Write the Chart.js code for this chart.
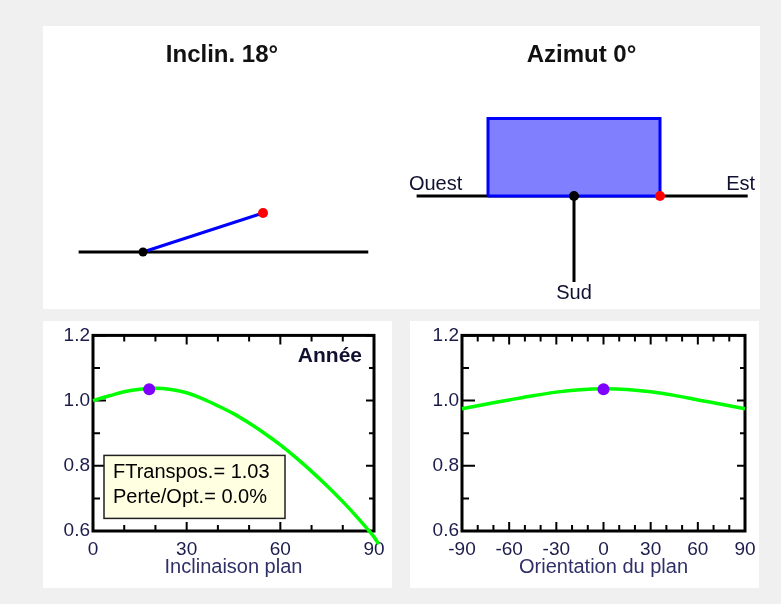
<!DOCTYPE html>
<html>
<head>
<meta charset="utf-8">
<script src="https://cdn.jsdelivr.net/npm/chart.js@4.4.1/dist/chart.umd.min.js"></script>
<style>
  body { margin: 0; background: #f0f0f0; width: 781px; height: 604px; overflow: hidden; }
  .panel { position: absolute; background: #fff; }
  canvas { position: absolute; }
</style>
</head>
<body>
<div class="panel" style="left:43px;top:26px;width:717px;height:283px"></div>
<canvas id="tilt" width="358" height="283" style="left:43px;top:26px"></canvas>
<canvas id="azim" width="357" height="283" style="left:403px;top:26px"></canvas>
<div class="panel" style="left:43px;top:321px;width:349px;height:267px"></div>
<canvas id="tiltCurve" width="349" height="267" style="left:43px;top:321px"></canvas>
<div class="panel" style="left:410px;top:321px;width:349px;height:267px"></div>
<canvas id="azimCurve" width="353" height="267" style="left:410px;top:321px"></canvas>
<script>
// plane orientation
const tiltAngle = 18;
const azimuth = 0;

// transposition factor vs tilt (azimuth 0)
const tiltX = [0, 5, 10, 15, 20, 25, 30, 35, 40, 45, 50, 55, 60, 65, 70, 75, 80, 85, 90, 91.5];
const tiltFactor = [1.000, 1.014, 1.027, 1.035, 1.038, 1.034, 1.024, 1.006, 0.984, 0.960, 0.931, 0.899, 0.864, 0.825, 0.783, 0.738, 0.690, 0.638, 0.582, 0.559];

// transposition factor vs azimuth (tilt 18)
const azimX = [-90, -75, -60, -45, -30, -15, 0, 15, 30, 45, 60, 75, 90];
const azimFactor = [0.975, 0.989, 1.002, 1.015, 1.026, 1.033, 1.036, 1.034, 1.027, 1.016, 1.002, 0.989, 0.975];

const currentFactor = 1.035;
const fTranspos = 1.03;
const lossVsOpt = 0.0;

const tiltTicks = [0, 30, 60, 90];
const azimTicks = [-90, -60, -30, 0, 30, 60, 90];
const factorTicks = [0.6, 0.8, 1.0, 1.2];

// diagram geometry (panel length = 1)
const rad = tiltAngle * Math.PI / 180;
const tiltGround = [[-0.51, 0], [1.785, 0]];
const tiltPlane = [[0, 0], [Math.cos(rad), Math.sin(rad)]];
const azimGround = [[-1.83, 0], [2.02, 0]];
const azimPlane = [[-1, 0], [-1, 0.9], [1, 0.9], [1, 0], [-1, 0]];
const southLine = [[0, 0], [0, -1]];

const pts = a => a.map(p => ({x: p[0], y: p[1]}));

Chart.defaults.font.family = 'Arial, "Liberation Sans"';

// text placed in data units on the diagrams
const labelPlugin = {
  id: 'labels',
  afterDatasetsDraw(chart, args, opts) {
    const {ctx, scales: {x, y}} = chart;
    ctx.save();
    ctx.font = '20px Arial, "Liberation Sans"';
    ctx.fillStyle = '#101030';
    ctx.textBaseline = 'alphabetic';
    (opts.items || []).forEach(it => {
      ctx.textAlign = it.align;
      ctx.fillText(it.text, x.getPixelForValue(it.x), y.getPixelForValue(it.y));
    });
    ctx.restore();
  }
};

// thick frame with inner ticks on all four sides
const framePlugin = {
  id: 'frame',
  beforeDatasetsDraw(chart, args, opts) {
    const {ctx, chartArea: a, scales: {x, y}} = chart;
    ctx.save();
    ctx.strokeStyle = '#000';
    ctx.lineWidth = 2;
    ctx.beginPath();
    for (let i = 0; ; i++) {
      const v = x.min + i * 10;
      if (v > x.max + 1e-6) break;
      const px = x.getPixelForValue(v);
      const len = Math.round(v) % 30 === 0 ? 9 : 6;
      ctx.moveTo(px, a.bottom); ctx.lineTo(px, a.bottom - len);
      ctx.moveTo(px, a.top); ctx.lineTo(px, a.top + len);
    }
    for (let i = 0; ; i++) {
      const v = y.min + i * 0.1;
      if (v > y.max + 1e-6) break;
      const py = y.getPixelForValue(v);
      const major = Math.round(v * 10) % 2 === 0;
      ctx.moveTo(a.left, py); ctx.lineTo(a.left + (major ? 13 : 7), py);
      ctx.moveTo(a.right, py); ctx.lineTo(a.right - (major ? 8 : 5), py);
    }
    ctx.stroke();
    ctx.lineWidth = 3;
    ctx.strokeRect(a.left, a.top, a.right - a.left, a.bottom - a.top);
    ctx.restore();
  }
};

// "Année" and the result box
const notePlugin = {
  id: 'note',
  afterDatasetsDraw(chart, args, opts) {
    if (!opts.show) return;
    const {ctx, chartArea: a} = chart;
    ctx.save();
    ctx.font = 'bold 21px Arial, "Liberation Sans"';
    ctx.fillStyle = '#101030';
    ctx.textAlign = 'right';
    ctx.textBaseline = 'alphabetic';
    ctx.fillText('Année', a.right - 12, a.top + 27);
    const bx = a.left + 11, by = a.top + 120;
    ctx.fillStyle = '#ffffe1';
    ctx.fillRect(bx, by, 181, 63);
    ctx.strokeStyle = '#202020';
    ctx.lineWidth = 1.5;
    ctx.strokeRect(bx, by, 181, 63);
    ctx.font = '20px Arial, "Liberation Sans"';
    ctx.fillStyle = '#000';
    ctx.textAlign = 'left';
    ctx.fillText('FTranspos.= ' + fTranspos.toFixed(2), bx + 9, by + 23);
    ctx.fillText('Perte/Opt.= ' + lossVsOpt.toFixed(1) + '%', bx + 9, by + 48);
    ctx.restore();
  }
};

function diagram(id, title, ppu, ox, oy, datasets, items) {
  const w = document.getElementById(id).width, h = 283, top = 43.8;
  return new Chart(document.getElementById(id), {
    type: 'scatter',
    data: { datasets: datasets },
    options: {
      responsive: false,
      animation: false,
      events: [],
      layout: { padding: 0, autoPadding: false },
      plugins: {
        legend: { display: false },
        tooltip: { enabled: false },
        title: {
          display: true,
          text: title,
          color: '#111',
          font: { size: 24, weight: 'bold', lineHeight: 1.2 },
          padding: { top: 15, bottom: 0 }
        },
        labels: { items: items }
      },
      scales: {
        x: { display: false, min: -ox / ppu, max: (w - ox) / ppu },
        y: { display: false, min: -(h - oy) / ppu, max: (oy - top) / ppu }
      }
    },
    plugins: [labelPlugin]
  });
}

diagram('tilt', 'Inclin. ' + tiltAngle + '°', 126.2, 100, 226, [
  { type: 'line', data: pts(tiltGround), borderColor: '#000', borderWidth: 3, pointRadius: 0, order: 4 },
  { type: 'line', data: pts(tiltPlane), borderColor: '#0000ff', borderWidth: 3, pointRadius: 0, order: 3 },
  { data: pts([tiltPlane[0]]), pointRadius: 4.5, pointBackgroundColor: '#000', pointBorderWidth: 0, order: 2 },
  { data: pts([tiltPlane[1]]), pointRadius: 5, pointBackgroundColor: '#ff0000', pointBorderWidth: 0, order: 1 }
], []);

diagram('azim', 'Azimut ' + azimuth + '°', 86, 171, 170, [
  { type: 'line', data: pts(azimGround), borderColor: '#000', borderWidth: 3, pointRadius: 0, order: 5 },
  { type: 'line', data: pts(azimPlane), borderColor: '#0000ff', backgroundColor: '#8080ff', fill: 'shape', borderWidth: 3, pointRadius: 0, order: 4 },
  { type: 'line', data: pts(southLine), borderColor: '#000', borderWidth: 3, pointRadius: 0, order: 3 },
  { data: pts([[0, 0]]), pointRadius: 5, pointBackgroundColor: '#000', pointBorderWidth: 0, order: 2 },
  { data: pts([azimPlane[3]]), pointRadius: 5, pointBackgroundColor: '#ff0000', pointBorderWidth: 0, order: 1 }
], [
  { text: 'Ouest', x: -1.92, y: 0.07, align: 'left' },
  { text: 'Est', x: 2.105, y: 0.07, align: 'right' },
  { text: 'Sud', x: 0, y: -1.198, align: 'center' }
]);

function curve(id, xs, ys, xMin, xMax, xTicks, xTitle, yWidth, padRight, current, showNote) {
  return new Chart(document.getElementById(id), {
    type: 'scatter',
    data: {
      datasets: [
        { data: [current], pointRadius: 6, pointBackgroundColor: '#8000ff', pointBorderWidth: 0, order: 0 },
        { type: 'line', data: xs.map((x, i) => ({x: x, y: ys[i]})), borderColor: '#00ff00', borderWidth: 3.5,
          pointRadius: 0, tension: 0.3, clip: false, order: 1 }
      ]
    },
    options: {
      responsive: false,
      animation: false,
      events: [],
      layout: { padding: { top: 14, right: padRight, left: 0, bottom: 0 }, autoPadding: false },
      plugins: {
        legend: { display: false },
        tooltip: { enabled: false },
        note: { show: showNote }
      },
      scales: {
        x: {
          type: 'linear', bounds: 'data',
          grid: { display: false, drawTicks: false }, border: { display: false },
          afterDataLimits: s => { s.min = xMin; s.max = xMax; },
          afterBuildTicks: s => { s.ticks = xTicks.map(v => ({value: v})); s.min = xMin; s.max = xMax; },
          afterFit: s => { s.height = 57; },
          ticks: { color: '#1c1c4c', font: { size: 19 }, padding: 7, maxRotation: 0, autoSkip: false },
          title: { display: true, text: xTitle, color: '#303068', font: { size: 20 }, padding: { top: 0, bottom: 9 } }
        },
        y: {
          min: 0.6, max: 1.2,
          grid: { display: false, drawTicks: false }, border: { display: false },
          afterBuildTicks: s => { s.ticks = factorTicks.map(v => ({value: v})); },
          afterFit: s => { s.width = yWidth; },
          ticks: { color: '#1c1c4c', font: { size: 19 }, padding: 3, callback: v => v.toFixed(1) }
        }
      }
    },
    plugins: [framePlugin, notePlugin]
  });
}

curve('tiltCurve', tiltX, tiltFactor, 0, 90, tiltTicks, 'Inclinaison plan', 50, 18, {x: tiltAngle, y: currentFactor}, true);
curve('azimCurve', azimX, azimFactor, -90, 90, azimTicks, 'Orientation du plan', 52, 18, {x: azimuth, y: currentFactor}, false);
</script>
</body>
</html>
